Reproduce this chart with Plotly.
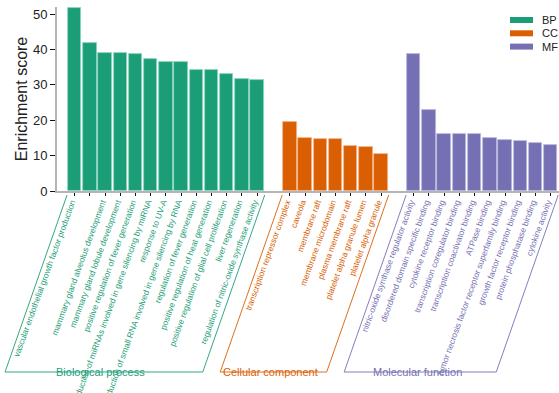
import plotly.graph_objects as go

# GO enrichment terms and scores, grouped by ontology
bp_terms = [
    "vascular endothelial growth factor production",
    "positive regulation of transcription from RNA polymerase II promoter in response to hypoxia",
    "mammary gland alveolus development",
    "mammary gland lobule development",
    "positive regulation of fever generation",
    "regulation of production of miRNAs involved in gene silencing by miRNA",
    "response to UV-A",
    "regulation of production of small RNA involved in gene silencing by RNA",
    "regulation of fever generation",
    "positive regulation of heat generation",
    "positive regulation of glial cell proliferation",
    "liver regeneration",
    "regulation of nitric-oxide synthase activity",
]
bp_scores = [51.7, 41.9, 39.1, 39.1, 38.7, 37.3, 36.4, 36.4, 34.2, 34.2, 33.2, 31.7, 31.5]

cc_terms = [
    "transcription repressor complex",
    "caveola",
    "membrane raft",
    "membrane microdomain",
    "plasma membrane raft",
    "platelet alpha granule lumen",
    "platelet alpha granule",
]
cc_scores = [19.4, 14.9, 14.7, 14.7, 12.7, 12.3, 10.5]

mf_terms = [
    "nitric-oxide synthase regulator activity",
    "disordered domain specific binding",
    "cytokine receptor binding",
    "transcription coregulator binding",
    "transcription coactivator binding",
    "ATPase binding",
    "tumor necrosis factor receptor superfamily binding",
    "growth factor receptor binding",
    "protein phosphatase binding",
    "cytokine activity",
]
mf_scores = [38.6, 23.0, 16.2, 16.1, 16.1, 14.9, 14.5, 14.2, 13.7, 13.0]

group_keys = ["BP", "CC", "MF"]
group_names = ["Biological process", "Cellular component", "Molecular function"]
group_colors = ["#1B9E77", "#D95F02", "#7570B3"]
group_edges = ["#8fd6bf", "#f2b48a", "#b9b6dc"]
y_ticks = [0, 10, 20, 30, 40, 50]

groups = [(bp_terms, bp_scores), (cc_terms, cc_scores), (mf_terms, mf_scores)]

# layout geometry (pixels)
W, H = 559, 393
ML, MR, MT, MB = 57, 0, 7, 202
PW, PH = W - ML - MR, H - MT - MB
GAP = 1.15          # empty slots between groups
X_MIN, X_MAX = -1.16, 31.85
Y_MAX = 52

fig = go.Figure()

tickvals, ticktext = [], []
spans = []
start = 0.0
for (terms, scores), key, color, edge in zip(groups, group_keys, group_colors, group_edges):
    xs = [start + i for i in range(len(terms))]
    fig.add_trace(go.Bar(
        x=xs, y=scores, name=key, width=0.88,
        marker=dict(color=color, line=dict(color=edge, width=0.8)),
        showlegend=False,
    ))
    tickvals += xs
    ticktext += [f"<span style='color:{color}'>{t}</span>" for t in terms]
    spans.append((xs[0] - 0.5, xs[-1] + 0.5))
    start = xs[-1] + 1 + GAP


def px_x(v):
    return (v - X_MIN) / (X_MAX - X_MIN)


shapes, annotations = [], []

# brackets around each group's term labels
drop = 181 / PH          # bracket depth in paper units
shift = 62 / PW          # horizontal lean of the bracket sides
for (x0, x1), name, color in zip(spans, group_names, group_colors):
    a, b = px_x(x0), px_x(x1)
    top = -4 / PH
    path = (f"M {a} {top} L {a - shift} {-drop} L {b - shift} {-drop} L {b} {top}")
    shapes.append(dict(type="path", xref="paper", yref="paper", path=path,
                       line=dict(color=color, width=0.9)))
    annotations.append(dict(
        xref="paper", yref="paper", x=(a + b) / 2 - shift - 3 / PW, y=-drop,
        text=name, showarrow=False, xanchor="center", yanchor="middle",
        font=dict(size=11, color=color, family="Arial, Liberation Sans"),
    ))

# legend swatches
for i, (key, color) in enumerate(zip(group_keys, group_colors)):
    cy = 20 + i * 13.3
    y0 = (H - MB - (cy + 3)) / PH
    y1 = (H - MB - (cy - 3)) / PH
    shapes.append(dict(type="rect", xref="paper", yref="paper",
                       x0=(510 - ML) / PW, x1=(533 - ML) / PW, y0=y0, y1=y1,
                       fillcolor=color, line=dict(width=0)))
    annotations.append(dict(
        xref="paper", yref="paper", x=(540 - ML) / PW, y=(y0 + y1) / 2,
        text=key, showarrow=False, xanchor="left", yanchor="middle",
        font=dict(size=11, color="#222222", family="Arial, Liberation Sans"),
    ))

fig.update_layout(
    width=W, height=H,
    margin=dict(l=ML, r=MR, t=MT, b=MB, autoexpand=False),
    paper_bgcolor="white", plot_bgcolor="white",
    bargap=0,
    font=dict(family="Arial, Liberation Sans", color="#222222"),
    shapes=shapes, annotations=annotations,
    showlegend=False,
)
fig.update_xaxes(
    range=[X_MIN, X_MAX], tickmode="array", tickvals=tickvals, ticktext=ticktext,
    tickangle=-70, tickfont=dict(size=8.4), ticks="outside", ticklen=3,
    tickcolor="#111111", tickwidth=1.2,
    ticklabelshift=-3, ticklabelstandoff=-2,
    showline=True, linecolor="#b5b5b5", linewidth=2, showgrid=False,
    zeroline=False, automargin=False,
)
fig.update_yaxes(
    range=[0, Y_MAX], tickmode="array", tickvals=y_ticks,
    tickfont=dict(size=13, color="#222222"), ticks="outside", ticklen=5,
    tickcolor="#111111", tickwidth=1.2,
    showline=True, linecolor="#b5b5b5", linewidth=2, showgrid=False,
    zeroline=False, automargin=False,
    title=dict(text="Enrichment score", font=dict(size=16, color="#222222"), standoff=1),
)

fig.write_html("out.html")
